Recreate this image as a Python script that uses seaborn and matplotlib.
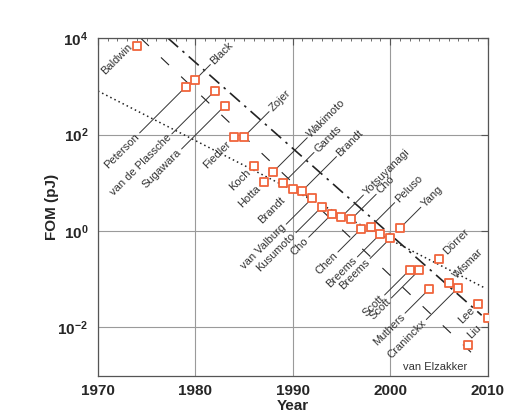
import matplotlib
matplotlib.use('Agg')
import matplotlib.pyplot as plt
import seaborn as sns
import pandas as pd
from matplotlib.ticker import MultipleLocator, NullLocator, FixedLocator, FixedFormatter

# ---------------- data ----------------
years = [1974, 1979, 1980, 1982, 1983, 1984, 1985, 1986, 1987, 1988, 1989,
         1990, 1991, 1992, 1993, 1994, 1995, 1996, 1997, 1998, 1999, 2000,
         2001, 2002, 2003, 2004, 2005, 2006, 2007, 2008, 2009, 2010]
fom = [6900, 980, 1390, 810, 394, 88, 91, 22.4, 10.5, 17, 9.7,
       7.4, 6.9, 4.8, 3.2, 2.23, 1.95, 1.75, 1.1, 1.23, 0.87, 0.70,
       1.14, 0.155, 0.155, 0.062, 0.26, 0.085, 0.067, 0.0044, 0.031, 0.0156]
authors = ['Baldwin', 'Peterson', 'Black', 'van de Plassche', 'Sugawara',
           'Fiedler', 'Zojer', 'Koch', 'Hotta', 'Wakimoto', 'Garuts',
           'Brandt', 'Brandt', 'van Valburg', 'Kusumoto', 'Cho', 'Yotsuyanagi',
           'Cho', 'Chen', 'Peluso', 'Breems', 'Breems', 'Yang', 'Scott',
           'Scott', 'Muthers', 'Dörrer', 'Wismar', 'Craninckx', 'van Elzakker',
           'Lee', 'Liu']

# trend lines (endpoints)
dot_years = [1970, 2009.85]
dot_fom = [805, 0.0637]
dashdot_years = [1977.2, 2009.4]
dashdot_fom = [1e4, 0.0178]
dash_years = [1974.4, 2009.5]
dash_fom = [1e4, 0.00179]

x_ticks = [1970, 1980, 1990, 2000, 2010]
y_ticks = [1e-2, 1e0, 1e2, 1e4]
y_ticklabels = [r'$\mathbf{10^{-2}}$', r'$\mathbf{10^{0}}$', r'$\mathbf{10^{2}}$', r'$\mathbf{10^{4}}$']

# ---------------- label layout (side, leader length in px) ----------------
layout = [('custom', 0), ('below', 48), ('above', 17), ('below', 45), ('below', 45),
          ('below', 5), ('above', 27), ('below', 5), ('below', 5), ('above', 36),
          ('above', 33), ('below', 9), ('above', 36), ('below', 28), ('below', 28),
          ('below', 25), ('above', 24), ('above', 27), ('below', 25), ('above', 26),
          ('below', 25), ('below', 22), ('above', 23), ('below', 27), ('below', 30),
          ('below', 26), ('above', 6), ('above', 6), ('below', 34), ('center', 0),
          ('below', 5), ('below', 8)]

# ---------------- style ----------------
sns.set_theme(style='white')
plt.rcParams['font.family'] = ['Liberation Sans', 'DejaVu Sans']
plt.rcParams['mathtext.fontset'] = 'custom'
plt.rcParams['mathtext.rm'] = 'Liberation Sans'
plt.rcParams['mathtext.bf'] = 'Liberation Sans:bold'

W, H = 530, 416
fig = plt.figure(figsize=(W / 100, H / 100), dpi=100)
fig.patch.set_facecolor('white')
ax = fig.add_axes([98 / W, 1 - 375.5 / H, 389.5 / W, (375.5 - 38.3) / H])
ax.set_yscale('log')
ax.set_xlim(1970, 2010)
ax.set_ylim(1e-3, 1e4)

ax.grid(True, which='major', color='#9a9a9a', lw=0.8, zorder=0)
ax.set_axisbelow(True)

line_col = '#222222'
sns.lineplot(x=dot_years, y=dot_fom, ax=ax, color=line_col, lw=1.1, zorder=2)
ax.lines[-1].set_linestyle((0, (1, 2)))
sns.lineplot(x=dashdot_years, y=dashdot_fom, ax=ax, color=line_col, lw=1.2, zorder=2)
ax.lines[-1].set_linestyle((0, (8, 3.5, 1.5, 3.5)))
sns.lineplot(x=dash_years, y=dash_fom, ax=ax, color=line_col, lw=0.8, zorder=2)
ax.lines[-1].set_linestyle((0, (10, 15)))

df = pd.DataFrame({'Year': years, 'FOM': fom, 'author': authors})
sns.scatterplot(data=df, x='Year', y='FOM', ax=ax, marker='s', s=34,
                color='white', edgecolor='#F0643C', linewidth=1.3, zorder=5)

txt_col = '#333333'
for yr, f, name, (side, d) in zip(years, fom, authors, layout):
    if side == 'custom':
        ax.annotate(name, xy=(yr, f), xytext=(-6, 1), textcoords='offset pixels',
                    rotation=45, rotation_mode='anchor', ha='right', va='center',
                    fontsize=8, color=txt_col)
        continue
    if side == 'center':
        ax.annotate(name, xy=(yr, f), xytext=(-33, -22), textcoords='offset pixels',
                    ha='center', va='center', fontsize=8, color=txt_col)
        continue
    s = -1 if side == 'below' else 1
    if d > 10:
        ax.annotate('', xy=(yr, f), xytext=(s * (d - 2), s * (d - 2)),
                    textcoords='offset pixels',
                    arrowprops=dict(arrowstyle='-', color=txt_col, lw=0.7,
                                    shrinkA=0, shrinkB=0), zorder=3)
    ax.annotate(name, xy=(yr, f), xytext=(s * d, s * d), textcoords='offset pixels',
                rotation=45, rotation_mode='anchor',
                ha='right' if side == 'below' else 'left', va='center',
                fontsize=8, color=txt_col)

# ---------------- axes ----------------
ax.xaxis.set_major_locator(FixedLocator(x_ticks))
ax.xaxis.set_minor_locator(MultipleLocator(1))
ax.yaxis.set_major_locator(FixedLocator(y_ticks))
ax.yaxis.set_major_formatter(FixedFormatter(y_ticklabels))
ax.yaxis.set_minor_locator(NullLocator())
ax.tick_params(which='both', direction='in', top=True, right=True, color='#555555')
ax.tick_params(which='major', length=5, width=0.8, labelsize=11)
ax.tick_params(which='minor', length=2.5, width=0.6)
ax.tick_params(axis='x', pad=6)
ax.tick_params(axis='y', pad=7)
for lbl in ax.get_xticklabels():
    lbl.set_fontweight('bold')
for sp in ax.spines.values():
    sp.set_color('#555555')
    sp.set_linewidth(0.9)

ax.set_xlabel('Year', fontsize=11, fontweight='bold', labelpad=1)
ax.set_ylabel('FOM (pJ)', fontsize=11, fontweight='bold', labelpad=-1)

fig.savefig('out.png', dpi=100)
